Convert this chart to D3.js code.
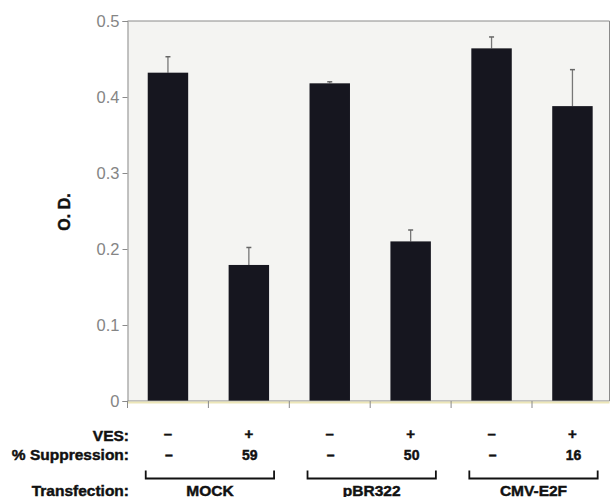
<!DOCTYPE html>
<html>
<head>
<meta charset="utf-8">
<script src="https://cdn.jsdelivr.net/npm/d3@7"></script>
<style>
  body { margin: 0; background: #fff; }
  svg { display: block; font-family: "Liberation Sans", Arial, sans-serif; }
  .lbl { font-weight: bold; fill: #111; stroke: #111; stroke-width: 0.45px; }
</style>
</head>
<body>
<div id="chart"></div>
<script>
// bar data
const samples = ["MOCK-", "MOCK+", "pBR322-", "pBR322+", "E2F-", "E2F+"];
const odValues = [0.432, 0.179, 0.418, 0.210, 0.464, 0.388];
const errTops = [0.453, 0.202, 0.420, 0.225, 0.479, 0.436];
const vesLabels = ["–", "+", "–", "+", "–", "+"];
const suppressionLabels = ["–", "59", "–", "50", "–", "16"];
const groups = ["MOCK", "pBR322", "CMV-E2F"];
const yTicks = [0, 0.1, 0.2, 0.3, 0.4, 0.5];

const W = 611, H = 497;
const margin = { top: 21, left: 127.5, bottom: 96 };
const plotRight = 609.5;
const plotBottom = H - margin.bottom; // ~401

const svg = d3.select("#chart").append("svg")
    .attr("width", W)
    .attr("height", H);

const x = d3.scaleBand()
    .domain(samples)
    .range([margin.left, margin.left + 6 * 80.9])
    .paddingInner(0.5)
    .paddingOuter(0.25);

const y = d3.scaleLinear()
    .domain([0, 0.5])
    .range([plotBottom, margin.top]);

// plot background (scanned paper tone)
svg.append("rect")
    .attr("x", margin.left)
    .attr("y", margin.top)
    .attr("width", plotRight - margin.left)
    .attr("height", plotBottom - margin.top)
    .attr("fill", "#f4f4f2");

// frame top + right
svg.append("path")
    .attr("d", `M${margin.left},${margin.top}H${plotRight}V${plotBottom}`)
    .attr("fill", "none")
    .attr("stroke", "#8a8a8a")
    .attr("stroke-width", 1);

// error bars
const bw = x.bandwidth();
svg.selectAll(".err")
    .data(samples)
    .enter()
    .append("line")
    .attr("class", "err")
    .attr("x1", d => x(d) + bw / 2)
    .attr("x2", d => x(d) + bw / 2)
    .attr("y1", (d, i) => y(odValues[i]))
    .attr("y2", (d, i) => y(errTops[i]))
    .attr("stroke", "#777")
    .attr("stroke-width", 1.3);

svg.selectAll(".cap")
    .data(samples)
    .enter()
    .append("line")
    .attr("class", "cap")
    .attr("x1", d => x(d) + bw / 2 - 2.5)
    .attr("x2", d => x(d) + bw / 2 + 2.5)
    .attr("y1", (d, i) => y(errTops[i]))
    .attr("y2", (d, i) => y(errTops[i]))
    .attr("stroke", "#666")
    .attr("stroke-width", 1.5);

// bars
svg.selectAll(".bar")
    .data(samples)
    .enter()
    .append("rect")
    .attr("class", "bar")
    .attr("x", d => x(d))
    .attr("width", bw)
    .attr("y", (d, i) => y(odValues[i]))
    .attr("height", (d, i) => y(0) - y(odValues[i]))
    .attr("fill", "#16161f");

// y axis
const yAxis = svg.append("g")
    .attr("transform", `translate(${margin.left},0)`)
    .call(d3.axisLeft(y).tickValues(yTicks).tickSize(5).tickPadding(3)
        .tickFormat(d => d === 0 ? "0" : d3.format(".1f")(d)));
yAxis.select(".domain").attr("stroke", "#8a8a8a");
yAxis.selectAll(".tick line").attr("stroke", "#8a8a8a");
yAxis.selectAll(".tick text")
    .attr("fill", "#858585")
    .style("font-size", "16.5px");

// x axis: ticks at band boundaries
const xAxis = svg.append("g")
    .attr("transform", `translate(0,${plotBottom})`);
xAxis.append("line")
    .attr("x1", margin.left)
    .attr("x2", plotRight)
    .attr("stroke", "#8a8a8a");
xAxis.append("line")
    .attr("x1", margin.left)
    .attr("x2", plotRight)
    .attr("y1", 1.5)
    .attr("y2", 1.5)
    .attr("stroke", "#ece6b8")
    .attr("stroke-width", 2);
xAxis.selectAll(".xt")
    .data(samples)
    .enter()
    .append("line")
    .attr("class", "xt")
    .attr("x1", d => x(d) - x.step() * 0.25)
    .attr("x2", d => x(d) - x.step() * 0.25)
    .attr("y1", 0)
    .attr("y2", 7)
    .attr("stroke", "#8a8a8a");

// y label
svg.append("text")
    .attr("class", "lbl")
    .attr("transform", "rotate(-90)")
    .attr("x", -212)
    .attr("y", 70)
    .attr("text-anchor", "middle")
    .style("font-size", "16px")
    .text("O. D.");

// row labels under the axis
const rowLabel = (txt, yy) => svg.append("text")
    .attr("class", "lbl")
    .attr("x", 129)
    .attr("y", yy)
    .attr("text-anchor", "end")
    .style("font-size", "15.5px")
    .text(txt);
rowLabel("VES:", 440.5);
rowLabel("% Suppression:", 459.5);
rowLabel("Transfection:", 495.5);

svg.selectAll(".ves")
    .data(samples)
    .enter()
    .append("text")
    .attr("class", "lbl")
    .attr("x", d => x(d) + bw / 2)
    .attr("y", 439)
    .attr("text-anchor", "middle")
    .style("font-size", "15px")
    .text((d, i) => vesLabels[i]);

svg.selectAll(".sup")
    .data(samples)
    .enter()
    .append("text")
    .attr("class", "lbl")
    .attr("x", d => x(d) + bw / 2 + 1)
    .attr("y", 459.5)
    .attr("text-anchor", "middle")
    .style("font-size", "14px")
    .text((d, i) => suppressionLabels[i]);

// group brackets
groups.forEach((g, gi) => {
    const a = samples[gi * 2], b = samples[gi * 2 + 1];
    const x0 = x(a) - 2, x1 = x(b) + bw + 5;
    svg.append("path")
        .attr("d", `M${x0},470.5V478.5H${x1}V470.5`)
        .attr("fill", "none")
        .attr("stroke", "#111")
        .attr("stroke-width", 1.8);
    svg.append("text")
        .attr("class", "lbl")
        .attr("x", (x0 + x1) / 2)
        .attr("y", 495.5)
        .attr("text-anchor", "middle")
        .style("font-size", "15.5px")
        .text(g);
});
</script>
</body>
</html>
